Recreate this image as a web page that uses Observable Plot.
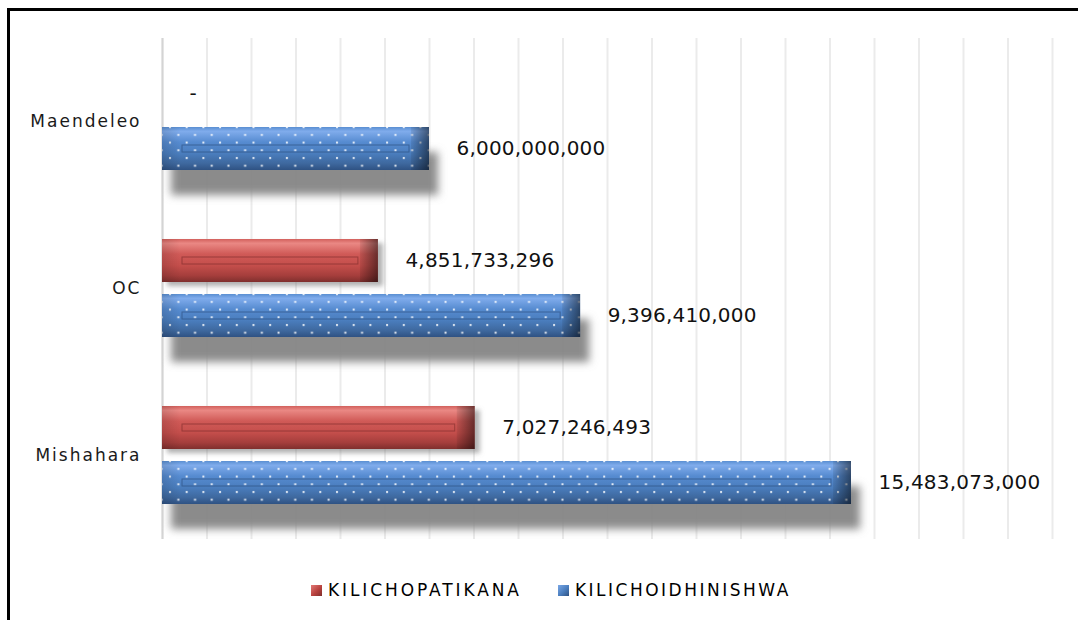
<!DOCTYPE html>
<html>
<head>
<meta charset="utf-8">
<script src="https://cdn.jsdelivr.net/npm/d3@7"></script>
<script src="https://cdn.jsdelivr.net/npm/@observablehq/plot@0.6"></script>
<style>
  html, body { margin: 0; padding: 0; background: #fff; width: 1078px; height: 620px; overflow: hidden; }
  #frame { position: absolute; left: 7px; top: 8px; width: 1200px; height: 800px;
           border-left: 3px solid #000; border-top: 3px solid #000; box-sizing: border-box; }
  #wrap { position: relative; }
  #legend { display: flex; align-items: center; height: 40px; margin-left: 311px;
            font-family: "DejaVu Sans", sans-serif; font-size: 17px; color: #000; }
  .sw { width: 11px; height: 11px; margin-right: 6px; box-sizing: border-box; }
  .item { display: flex; align-items: center; }
</style>
</head>
<body>
<div id="frame"></div>
<div id="wrap"><div id="chart"></div>
<div id="legend"></div></div>
<script>
// ---- data ----
const categories = ["Maendeleo", "OC", "Mishahara"];
const seriesNames = ["KILICHOPATIKANA", "KILICHOIDHINISHWA"];
const kilichopatikana = [0, 4851733296, 7027246493];
const kilichoidhinishwa = [6000000000, 9396410000, 15483073000];
const xMax = 20000000000;

const rows = [];
categories.forEach((c, i) => {
  rows.push({category: c, series: seriesNames[0], value: kilichopatikana[i]});
  rows.push({category: c, series: seriesNames[1], value: kilichoidhinishwa[i]});
});
const nonzero = rows.filter(d => d.value > 0);
const redRows = nonzero.filter(d => d.series === seriesNames[0]);
const blueRows = nonzero.filter(d => d.series === seriesNames[1]);

const fillBody = d => d.series === seriesNames[0] ? "url(#gRed)" : "url(#gBlue)";
const fmt = d3.format(",");

const chart = Plot.plot({
  width: 1078,
  height: 570,
  marginTop: 37,
  marginBottom: 30,
  marginLeft: 162,
  marginRight: 26,
  style: {fontFamily: "DejaVu Sans, sans-serif", background: "transparent"},
  x: {domain: [0, xMax], axis: null},
  y: {domain: seriesNames, axis: null, paddingInner: 0.214, paddingOuter: 0.607},
  fy: {domain: categories, padding: 0, label: null},
  marks: [
    Plot.gridX({ticks: 20, stroke: "#ebebeb", strokeOpacity: 1, strokeWidth: 2}),
    Plot.ruleX([0], {stroke: "#d4d4d4", strokeWidth: 2}),
    // shadows
    Plot.rectX(blueRows, {x: "value", y: "series", fy: "category", fill: "#858585", fillOpacity: 0.95, dx: 9, dy: 25, ariaLabel: () => "shadow"}),
    Plot.rectX(redRows, {x: "value", y: "series", fy: "category", fill: "#7a7a7a", fillOpacity: 0.6, dx: 5, dy: 4, ariaLabel: () => "shadow-s"}),
    // body
    Plot.rectX(nonzero, {x: "value", y: "series", fy: "category", fill: fillBody}),
    // dots on blue
    Plot.rectX(blueRows, {x: "value", y: "series", fy: "category", fill: "url(#dots)"}),
    // left bevel
    Plot.rect(nonzero, {x1: 0, x2: 0, y: "series", fy: "category", insetRight: -18, fill: "url(#gLeft)"}),
    // right bevel
    Plot.rect(nonzero, {x1: "value", x2: "value", y: "series", fy: "category", insetLeft: -18, fill: "url(#gRight)"}),
    // inner flat panel
    Plot.rectX(nonzero, {x: "value", y: "series", fy: "category", insetLeft: 20, insetRight: 20, insetTop: 18, insetBottom: 18,
      fill: "none", stroke: d => d.series === seriesNames[0] ? "#7a2a28" : "#2a4a78", strokeOpacity: 0.6, strokeWidth: 1}),
    // value labels
    Plot.text(rows, {x: "value", y: "series", fy: "category",
      text: d => d.value === 0 ? "-" : fmt(d.value),
      dx: 27, textAnchor: "start", fontSize: 20, fill: "#111", ariaLabel: () => "vlabel"}),
    Plot.axisFy({anchor: "left", tickSize: 0, tickPadding: 21, fontSize: 17, label: null, fill: "#1a1a1a"})
  ]
});

const svg = d3.select(chart);
const defs = svg.insert("defs", ":first-child");
const gr = defs.append("linearGradient").attr("id", "gRed").attr("x1", 0).attr("y1", 0).attr("x2", 0).attr("y2", 1);
[[0, "#d2605c"], [0.1, "#ea8884"], [0.35, "#d05a57"], [0.62, "#c44e4b"], [0.85, "#a53e3c"], [1, "#7f2f2d"]]
  .forEach(([o, c]) => gr.append("stop").attr("offset", o).attr("stop-color", c));
const gb = defs.append("linearGradient").attr("id", "gBlue").attr("x1", 0).attr("y1", 0).attr("x2", 0).attr("y2", 1);
[[0, "#5a8fd2"], [0.1, "#80acec"], [0.35, "#568bd0"], [0.62, "#4a7dbd"], [0.85, "#3e689e"], [1, "#2f5283"]]
  .forEach(([o, c]) => gb.append("stop").attr("offset", o).attr("stop-color", c));
const gl = defs.append("linearGradient").attr("id", "gLeft").attr("x1", 0).attr("y1", 0).attr("x2", 1).attr("y2", 0);
gl.append("stop").attr("offset", 0).attr("stop-color", "#000").attr("stop-opacity", 0.12);
gl.append("stop").attr("offset", 1).attr("stop-color", "#000").attr("stop-opacity", 0);
const grt = defs.append("linearGradient").attr("id", "gRight").attr("x1", 0).attr("y1", 0).attr("x2", 1).attr("y2", 0);
grt.append("stop").attr("offset", 0).attr("stop-color", "#000").attr("stop-opacity", 0.08);
grt.append("stop").attr("offset", 1).attr("stop-color", "#000").attr("stop-opacity", 0.5);
const pat = defs.append("pattern").attr("id", "dots").attr("patternUnits", "userSpaceOnUse")
  .attr("width", 16.7).attr("height", 15.4);
pat.append("rect").attr("x", 2).attr("y", 2).attr("width", 2).attr("height", 2).attr("fill", "#fff").attr("fill-opacity", 0.85);
pat.append("rect").attr("x", 10.35).attr("y", 9.7).attr("width", 2).attr("height", 2).attr("fill", "#fff").attr("fill-opacity", 0.85);
const f1 = defs.append("filter").attr("id", "blur1").attr("x", "-30%").attr("y", "-80%").attr("width", "160%").attr("height", "260%");
f1.append("feGaussianBlur").attr("stdDeviation", 4);
const f2 = defs.append("filter").attr("id", "blur2").attr("x", "-30%").attr("y", "-80%").attr("width", "160%").attr("height", "260%");
f2.append("feGaussianBlur").attr("stdDeviation", 2.5);

svg.selectAll('rect[aria-label="shadow"]').attr("filter", "url(#blur1)");
svg.selectAll('rect[aria-label="shadow-s"]').attr("filter", "url(#blur2)");
svg.selectAll('g[aria-label="fy-axis tick label"] text').style("letter-spacing", "2px");
svg.selectAll('text[aria-label="vlabel"]').style("letter-spacing", "0.2px");

document.getElementById("chart").append(chart);

// legend
const legend = d3.select("#legend");
const legendFills = ["linear-gradient(135deg,#e27a76,#b8413e 55%,#7f2f2d)", "linear-gradient(135deg,#7aa7e6,#4a7dbd 55%,#2f5283)"];
const legendSpacing = ["2.9px", "2.5px"];
const legendGap = ["36px", "0px"];
seriesNames.forEach((s, i) => {
  const it = legend.append("div").attr("class", "item").style("margin-right", legendGap[i]);
  it.append("div").attr("class", "sw").style("background", legendFills[i]);
  it.append("span").style("letter-spacing", legendSpacing[i]).text(s);
});
</script>
</body>
</html>
